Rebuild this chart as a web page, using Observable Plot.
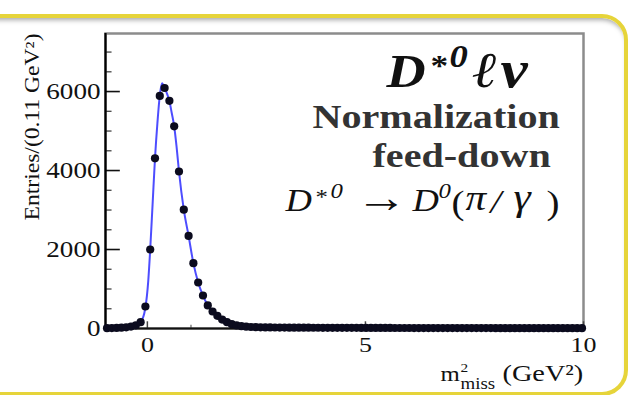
<!DOCTYPE html>
<html><head><meta charset="utf-8">
<script src="https://cdn.jsdelivr.net/npm/d3@7"></script>
<script src="https://cdn.jsdelivr.net/npm/@observablehq/plot@0.6"></script>
<style>
html,body{margin:0;padding:0;background:#fff;width:630px;height:395px;overflow:hidden}
#wrap{position:relative;width:630px;height:395px}
#border{position:absolute;left:-40px;top:14px;width:660px;height:374px;border:4px solid #e6d43a;border-radius:0 26px 26px 0;box-shadow:inset 0 5px 5px -3px rgba(0,0,0,0.35)}
#chart{position:absolute;left:0;top:0}
</style></head>
<body>
<div id="wrap"><div id="border"></div><div id="chart"></div></div>
<script>
// bin centres (GeV^2), bin width 0.11
const binX = [-0.925,-0.815,-0.705,-0.595,-0.485,-0.375,-0.265,-0.155,-0.045,0.065,
0.175,0.285,0.395,0.505,0.615,0.725,0.835,0.945,1.055,1.165,
1.275,1.385,1.495,1.605,1.715,1.825,1.935,2.045,2.155,2.265,
2.375,2.485,2.595,2.705,2.815,2.925,3.035,3.145,3.255,3.365,
3.475,3.585,3.695,3.805,3.915,4.025,4.135,4.245,4.355,4.465,
4.575,4.685,4.795,4.905,5.015,5.125,5.235,5.345,5.455,5.565,
5.675,5.785,5.895,6.005,6.115,6.225,6.335,6.445,6.555,6.665,
6.775,6.885,6.995,7.105,7.215,7.325,7.435,7.545,7.655,7.765,
7.875,7.985,8.095,8.205,8.315,8.425,8.535,8.645,8.755,8.865,
8.975,9.085,9.195,9.305,9.415,9.525,9.635,9.745,9.855,9.965];
const entries = [8,10,14,20,30,48,80,160,557,2000,
4310,5890,6090,5765,5120,3975,3010,2345,1655,1165,
835,585,430,320,225,160,110,78,58,45,
38,33,30,28,26,25,24,23,22,21,
21,20,20,19,19,18,18,17,17,17,
16,16,16,15,15,15,14,14,14,14,
13,13,13,13,12,12,12,12,12,11,
11,11,11,11,10,10,10,10,10,10,
10,9,9,9,9,9,9,9,8,8,
8,8,8,8,8,8,7,7,7,7];
// fitted curve (blue)
const fitX = [-0.96,-0.7,-0.5,-0.3,-0.15,-0.05,0.02,0.065,0.12,0.175,0.23,0.285,0.337,0.395,0.45,0.505,0.56,0.615,0.67,0.725,0.835,0.945,1.055,1.165,1.275,1.385,1.495,1.605,1.715,1.825,1.935,2.1,2.3,2.6,3,4,5,6,7,8,9,10];
const fitY = [8,14,28,75,170,500,1200,2000,3150,4310,5200,5900,6210,6080,5950,5760,5450,5120,4600,3975,3010,2345,1655,1165,835,590,425,315,225,160,110,65,42,30,24,18,15,13,11,10,8,7];
const yMajor = [0,2000,4000,6000];
const yMinor = [500,1000,1500,2500,3000,3500,4500,5000,5500,6500,7000];
const xMajor = [0,5,10];
const xMinor = [1,2,3,4,6,7,8,9];
const yTitle = "Entries/(0.11 GeV²)";

const ML=105, MT=33, MR=47, MB=67;
const xMin = -0.96, xMax = 10, yMax = 7470;
const points = binX.map((x,i)=>({x, y: entries[i]}));
const fit = fitX.map((x,i)=>({x, y: fitY[i]}));

function lbl(t, x, y, size, o = {}) {
  return Plot.text([t], {text: d=>d, frameAnchor:"top-left", dx: x-ML, dy: y-MT,
    textAnchor:"start", lineAnchor:"bottom", fontSize: size,
    fontWeight: o.weight || "normal", fontStyle: o.style || "normal",
    fill: o.fill || "#111"});
}
const BI = {weight:"bold", style:"italic"}, IT = {style:"italic"};

const svg = Plot.plot({
  width: 630, height: 395,
  marginLeft: ML, marginTop: MT, marginRight: MR, marginBottom: MB,
  style: {fontFamily: "'Liberation Serif', 'Times New Roman', serif", background: "transparent", overflow: "visible"},
  x: {domain: [xMin, xMax]},
  y: {domain: [0, yMax]},
  marks: [
    Plot.frame({stroke: "#8c8c8c", strokeWidth: 2.5}),
    Plot.ruleY(yMajor, {y: d=>d, x1: xMin, x2: xMin+0.34, stroke:"#111", strokeWidth:1.6}),
    Plot.ruleY(yMinor, {y: d=>d, x1: xMin, x2: xMin+0.15, stroke:"#444", strokeWidth:1.3}),
    Plot.ruleX(xMajor, {x: d=>d, y1: 0, y2: 170, stroke:"#444", strokeWidth:1.5}),
    Plot.ruleX(xMinor, {x: d=>d, y1: 0, y2: 80, stroke:"#666", strokeWidth:1.2}),
    Plot.ruleX([xMin], {stroke:"#000", strokeWidth:2.2}),
    Plot.ruleY([0], {stroke:"#111", strokeWidth:2.2}),
    Plot.line(fit, {x:"x", y:"y", curve:"monotone-x", stroke:"#3a3aff", strokeWidth:2, strokeOpacity:0.9}),
    Plot.dot(points, {x:"x", y:"y", r:4.1, fill:"#0b0b1e", stroke:"none"}),
    Plot.axisY({ticks: yMajor, tickSize: 0, tickPadding: 5, fontSize: 23, label: null, tickFormat: "d", color: "#111"}),
    Plot.axisX({ticks: xMajor, tickSize: 0, tickPadding: 8, fontSize: 22, label: null, tickFormat: "d", color: "#111"}),
    Plot.text([yTitle], {text: d=>d, frameAnchor:"top-left", dx: 32-ML, dy: 0, rotate: -90,
      textAnchor:"end", lineAnchor:"middle", fontSize: 20, fill:"#111", ariaLabel:"ytitle"}),
    // x-axis title: m^2_miss (GeV^2)
    lbl("m", 440, 380, 21),
    lbl("2", 460, 371, 13),
    lbl("miss", 460, 388, 16),
    lbl("(GeV²)", 502, 380, 24),
    // annotation: D*0 l nu
    lbl("D", 386, 86, 46, BI),
    lbl("*", 430, 74, 30, {weight:"bold"}),
    lbl("0", 449, 66, 31, BI),
    lbl("ℓ", 472, 86, 50, BI),
    lbl("ν", 500, 86, 52, BI),
    lbl("Normalization", 312, 127, 34, {weight:"bold", fill:"#333"}),
    lbl("feed-down", 372, 166, 34, {weight:"bold", fill:"#333"}),
    // D*0 -> D0 (pi/gamma)
    lbl("D", 285, 210, 31, IT),
    lbl("*", 315, 203, 21),
    lbl("0", 330, 197, 21, IT),
    lbl("→", 355, 211, 44),
    lbl("D", 412, 210, 31, IT),
    lbl("0", 438, 197, 21, IT),
    lbl("(", 451, 213, 33),
    lbl("π", 465, 209, 35, IT),
    lbl("/", 490, 212, 33, IT),
    lbl("γ", 513, 209, 37, IT),
    lbl(")", 546, 213, 33)
  ]
});
document.getElementById("chart").append(svg);

// the reference picture is stretched horizontally: stretch each text about its anchor
svg.querySelectorAll("text").forEach(el => {
  const g = el.closest("g[aria-label]");
  const lab = g ? g.getAttribute("aria-label") : "";
  const tr = el.getAttribute("transform") || "";
  if (lab === "ytitle") el.setAttribute("transform", tr + " scale(1.2,1.15)");
  else el.setAttribute("transform", tr + " scale(1.18,1)");
});
</script>
</body></html>
